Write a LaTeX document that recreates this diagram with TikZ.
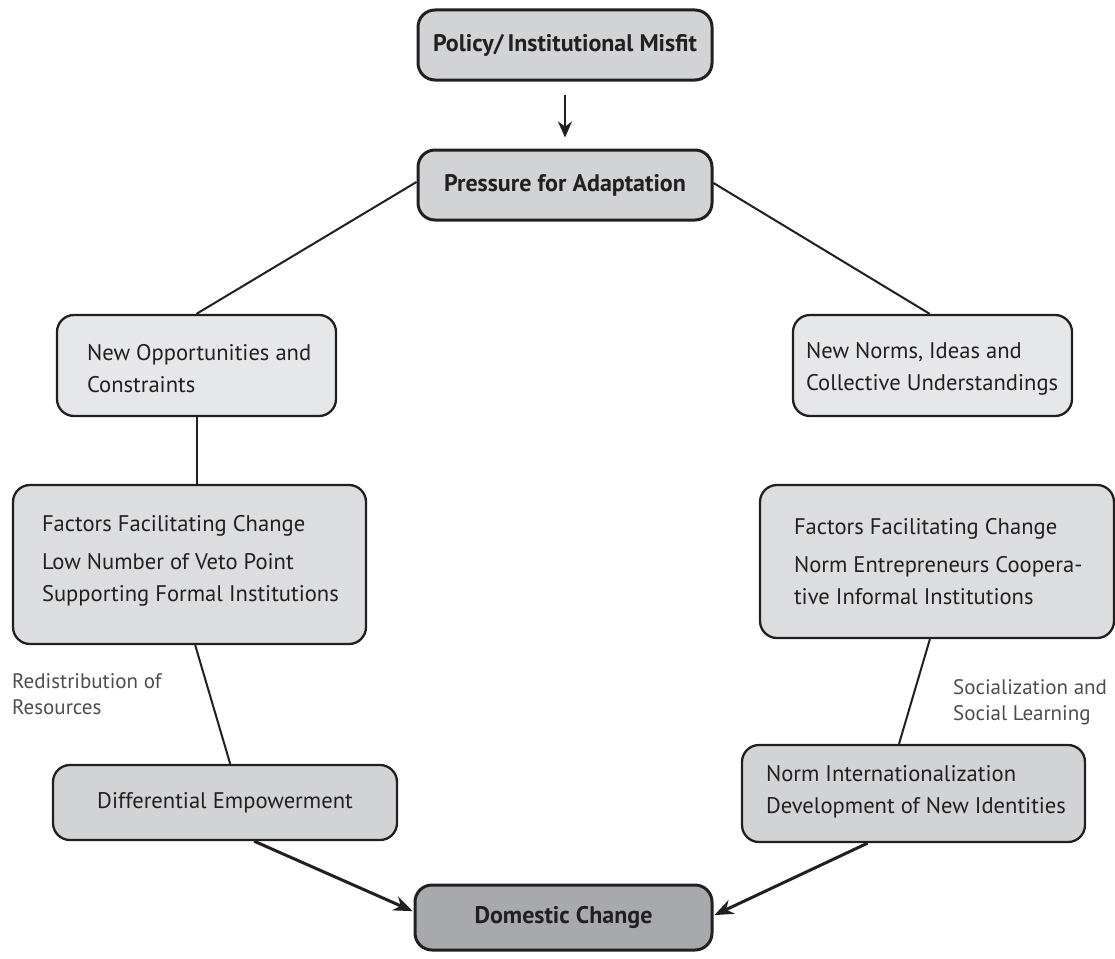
\documentclass[tikz,border=0pt]{standalone}
\usepackage{fontspec}
\setmainfont{PT Sans}
\usetikzlibrary{arrows.meta,calc}
\definecolor{ink}{HTML}{231F20}
\definecolor{fillTop}{HTML}{D1D3D4}
\definecolor{fillLight}{HTML}{E6E7E8}
\definecolor{fillMid}{HTML}{DCDDDE}
\definecolor{fillLow}{HTML}{D1D3D4}
\definecolor{fillDark}{HTML}{A7A9AC}
\definecolor{labelgray}{HTML}{4D4D4F}
\begin{document}
\begin{tikzpicture}[x=1pt,y=-1pt,
  box/.style={draw=ink, line width=2.3pt, rounded corners=17pt, inner sep=0pt},
  boldbox/.style={box, line width=3pt},
  txt/.style={inner sep=0pt, align=left, text=ink, font=\fontsize{22.6}{32}\selectfont},
  btxt/.style={inner sep=0pt, align=center, text=ink, font=\fontsize{24}{32}\selectfont\bfseries},
  lbl/.style={inner sep=0pt, align=left, text=labelgray, font=\fontsize{21}{26}\selectfont},
  conn/.style={draw=ink, line width=2pt},
  arr/.style={draw=ink, line width=3pt, -{Stealth[length=19pt,width=15pt]}}
]
\useasboundingbox (0,0) rectangle (1115,958);

% top boxes
\node[boldbox, fill=fillTop, minimum width=294pt, minimum height=70pt] (pol) at (565,45) {};
\node[btxt] (polt) at (pol.center) {Policy/\,Institutional Misfit};
\node[boldbox, fill=fillTop, minimum width=294pt, minimum height=70pt] (pre) at (565,185) {};
\node[btxt] (pret) at (pre.center) {Pressure for Adaptation};

% second row
\node[box, fill=fillLight, minimum width=279pt, minimum height=101pt] (opp) at (196.5,365.5) {};
\node[txt, anchor=west] (oppt) at ([xshift=31pt,yshift=-3pt]opp.west) {New Opportunities and\\Constraints};
\node[box, fill=fillLight, minimum width=279pt, minimum height=101pt] (nrm) at (932.5,365.5) {};
\node[txt, anchor=west] (nrmt) at ([xshift=14pt,yshift=-3pt]nrm.west) {New Norms, Ideas and\\Collective Understandings};

% factor boxes
\node[box, fill=fillMid, minimum width=353pt, minimum height=159pt] (lf) at (189.5,564.5) {};
\node[txt, anchor=west] (lft) at ([xshift=30pt,yshift=4pt]lf.west) {Factors Facilitating Change\\[6pt]Low Number of Veto Point\\Supporting Formal Institutions};
\node[box, fill=fillMid, minimum width=354pt, minimum height=153pt] (rf) at (937,561.5) {};
\node[txt, anchor=west] (rft) at ([xshift=35pt,yshift=0pt]rf.west) {Factors Facilitating Change\\[6pt]Norm Entrepreneurs Coopera-\\tive Informal Institutions};

% lower boxes
\node[box, fill=fillLow, minimum width=344pt, minimum height=75pt] (dif) at (225,802.5) {};
\node[txt] (dift) at (dif.center) {Differential Empowerment};
\node[box, fill=fillLow, minimum width=343pt, minimum height=97pt] (ni) at (913.5,793.5) {};
\node[txt, anchor=west] (nit) at ([xshift=25pt,yshift=2pt]ni.west) {Norm Internationalization\\Development of New Identities};

% bottom
\node[boldbox, fill=fillDark, minimum width=297pt, minimum height=65pt] (dom) at (563.5,917.5) {};
\node[btxt] (domt) at (dom.center) {Domestic Change};

% labels
\node[lbl, anchor=north west] (l1) at (12,673) {Redistribution of\\Resources};
\node[lbl, anchor=north west] (l2) at (953,679) {Socialization and\\Social Learning};

% connectors
\draw[draw=ink, line width=2.4pt, -{Stealth[length=16pt,width=14pt]}, shorten <=13pt, shorten >=11pt] (pol.south) -- (pre.north);
\draw[conn] ([yshift=3pt]pre.west) -- (opp.north);
\draw[conn] ([yshift=2pt]pre.east) -- ($(nrm.north west)!0.49!(nrm.north east)$);
\draw[conn] (opp.south) -- (opp.south |- lf.north);
\draw[conn] ($(nrm.south west)!0.49!(nrm.south east)$) -- ($(nrm.south west)!0.49!(nrm.south east)$ |- rf.north);
\draw[conn] ($(lf.south west)!0.516!(lf.south east)$) -- ($(dif.north west)!0.515!(dif.north east)$);
\draw[conn] ($(rf.south west)!0.48!(rf.south east)$) -- ($(ni.north west)!0.458!(ni.north east)$);
\draw[arr, shorten >=1pt] ($(dif.south west)!0.584!(dif.south east)$) -- ([yshift=6pt]dom.west);
\draw[arr, shorten >=1pt] ($(ni.south west)!0.367!(ni.south east)$) -- ([yshift=2pt]dom.east);
\end{tikzpicture}
\end{document}
